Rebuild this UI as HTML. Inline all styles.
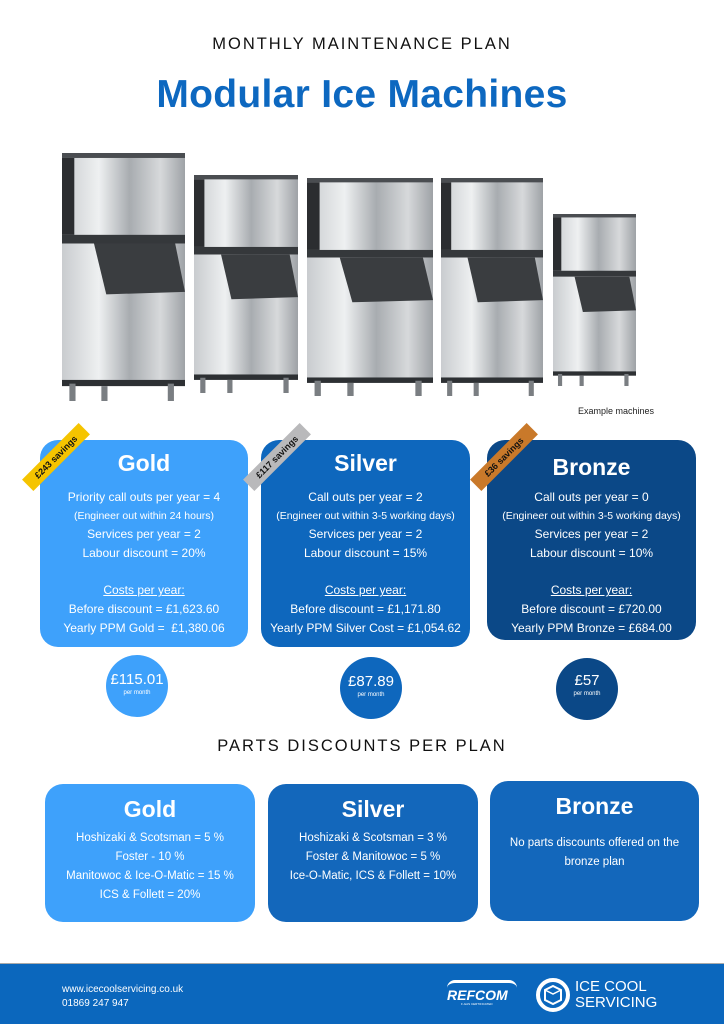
<!DOCTYPE html>
<html><head><meta charset="utf-8"><style>
*{margin:0;padding:0;box-sizing:border-box}
body{width:724px;height:1024px;position:relative;background:#fff;font-family:"Liberation Sans",sans-serif;overflow:hidden}
.a{position:absolute}
.c{text-align:center}
.card{position:absolute;border-radius:18px;color:#fff;text-align:center}
.card h2{font-size:23px;font-weight:bold;margin-top:10px}
.card p{font-size:12px;line-height:18.6px}
.card p.s{font-size:10.5px}
.circ{position:absolute;border-radius:50%;color:#fff;text-align:center;width:62px;height:62px}
.circ b{display:block;font-weight:normal;font-size:15px;margin-top:16px}
.circ i{display:block;font-style:normal;font-size:6px;margin-top:2px}
.pc{position:absolute;border-radius:18px;color:#fff;text-align:center}
.pc h2{font-size:23px;font-weight:bold;margin-top:12px;margin-bottom:6px}
.pc p{font-size:11.5px;line-height:19px}
.rib{position:absolute;width:80px;height:16px;font-size:9px;font-weight:bold;color:#111;text-align:center;line-height:16px;transform:rotate(-45deg)}
</style></head><body>
<div class="a c" style="left:0;top:35px;width:724px;font-size:16.5px;letter-spacing:2px;color:#111">MONTHLY MAINTENANCE PLAN</div>
<div class="a c" style="left:0;top:73px;width:724px;font-size:39px;font-weight:bold;letter-spacing:0.3px;color:#0d68c0">Modular Ice Machines</div>

<svg class="a" style="left:0;top:0" width="724" height="420">
<defs>
<linearGradient id="g" x1="0" x2="1"><stop offset="0" stop-color="#c9cccf"/><stop offset=".3" stop-color="#eef0f1"/><stop offset=".55" stop-color="#a8acb0"/><stop offset=".8" stop-color="#d7d9db"/><stop offset="1" stop-color="#9ea2a6"/></linearGradient>
<g id="m">
<rect x="0" y="2" width="100" height="66" fill="url(#g)"/>
<rect x="0" y="4" width="10" height="62" fill="#2b2d30"/>
<rect x="0" y="0" width="100" height="4" fill="#4a4d51"/>
<rect x="0" y="66" width="100" height="7" fill="#35383b"/>
<rect x="0" y="73" width="100" height="112" fill="url(#g)"/>
<polygon points="26,73 92,73 100,112 36,114" fill="#3a3d40"/>
<rect x="0" y="183" width="100" height="5" fill="#2d3033"/>
<rect x="6" y="186" width="5" height="14" fill="#7a7e82"/>
<rect x="32" y="188" width="5" height="12" fill="#7a7e82"/>
<rect x="86" y="186" width="5" height="14" fill="#7a7e82"/>
</g>
</defs>
<svg x="62" y="153" width="123" height="248" viewBox="0 0 100 200" preserveAspectRatio="none"><use href="#m"/></svg>
<svg x="194" y="175" width="104" height="218" viewBox="0 0 100 200" preserveAspectRatio="none"><use href="#m"/></svg>
<svg x="307" y="178" width="126" height="218" viewBox="0 0 100 200" preserveAspectRatio="none"><use href="#m"/></svg>
<svg x="441" y="178" width="102" height="218" viewBox="0 0 100 200" preserveAspectRatio="none"><use href="#m"/></svg>
<svg x="553" y="214" width="83" height="172" viewBox="0 0 100 200" preserveAspectRatio="none"><use href="#m"/></svg>
</svg>
<div class="a" style="left:578px;top:406px;font-size:9px;color:#222">Example machines</div>

<div class="card" style="left:40px;top:440px;width:208px;height:207px;background:#3ea1fb">
<h2>Gold</h2>
<div style="height:11px"></div>
<p>Priority call outs per year = 4</p><p class="s">(Engineer out within 24 hours)</p><p>Services per year = 2</p><p>Labour discount = 20%</p>
<p style="margin-top:19px;text-decoration:underline">Costs per year:</p><p>Before discount = £1,623.60</p><p>Yearly PPM Gold =&nbsp; £1,380.06</p>
</div>
<div class="card" style="left:261px;top:440px;width:209px;height:207px;background:#0e67bd">
<h2>Silver</h2>
<div style="height:11px"></div>
<p>Call outs per year = 2</p><p class="s">(Engineer out within 3-5 working days)</p><p>Services per year = 2</p><p>Labour discount = 15%</p>
<p style="margin-top:19px;text-decoration:underline">Costs per year:</p><p>Before discount = £1,171.80</p><p>Yearly PPM Silver Cost = £1,054.62</p>
</div>
<div class="card" style="left:487px;top:440px;width:209px;height:200px;background:#0b4887">
<h2 style="margin-top:14px">Bronze</h2>
<div style="height:7px"></div>
<p>Call outs per year = 0</p><p class="s">(Engineer out within 3-5 working days)</p><p>Services per year = 2</p><p>Labour discount = 10%</p>
<p style="margin-top:19px;text-decoration:underline">Costs per year:</p><p>Before discount = £720.00</p><p>Yearly PPM Bronze = £684.00</p>
</div>
<div class="rib" style="left:16px;top:449px;background:#f5c400">£243 savings</div>
<div class="rib" style="left:237px;top:449px;background:#b9b9bb">£117 savings</div>
<div class="rib" style="left:464px;top:449px;background:#c9792a">£36 savings</div>

<div class="circ" style="left:106px;top:655px;background:#3ea1fb"><b>£115.01</b><i>per month</i></div>
<div class="circ" style="left:340px;top:657px;background:#0e67bd"><b>£87.89</b><i>per month</i></div>
<div class="circ" style="left:556px;top:658px;background:#0b4887"><b style="margin-top:14px">£57</b><i>per month</i></div>

<div class="a c" style="left:0;top:737px;width:724px;font-size:16.5px;letter-spacing:2px;color:#111">PARTS DISCOUNTS PER PLAN</div>

<div class="pc" style="left:45px;top:784px;width:210px;height:138px;background:#3ea1fb"><h2>Gold</h2>
<p>Hoshizaki &amp; Scotsman = 5 %</p><p>Foster - 10 %</p><p>Manitowoc &amp; Ice-O-Matic = 15 %</p><p>ICS &amp; Follett = 20%</p></div>
<div class="pc" style="left:268px;top:784px;width:210px;height:138px;background:#1367bb"><h2>Silver</h2>
<p>Hoshizaki &amp; Scotsman = 3 %</p><p>Foster &amp; Manitowoc = 5 %</p><p>Ice-O-Matic, ICS &amp; Follett = 10%</p></div>
<div class="pc" style="left:490px;top:781px;width:209px;height:140px;background:#1367bb"><h2 style="margin-bottom:14px">Bronze</h2>
<p>No parts discounts offered on the</p><p>bronze plan</p></div>

<div class="a" style="left:0;top:963px;width:724px;height:61px;background:#0b67bd;border-top:1px solid #aaa"></div>
<div class="a" style="left:62px;top:983px;font-size:10px;line-height:14px;color:#fff">www.icecoolservicing.co.uk<br>01869 247 947</div>
<div class="a" style="left:447px;top:980px;width:72px;height:30px;color:#fff">
<div style="border-top:3px solid #fff;width:70px;height:8px;border-radius:30px 30px 0 0"></div>
<div style="font-size:14px;font-weight:bold;font-style:italic;line-height:14px">REFCOM</div>
<div style="font-size:3px;margin-left:14px">F-GAS CERTIFICATED</div></div>
<svg class="a" style="left:536px;top:978px" width="34" height="34" viewBox="0 0 34 34"><circle cx="17" cy="17" r="15" fill="none" stroke="#fff" stroke-width="4"/><polygon points="17,8 25,12 25,22 17,26 9,22 9,12" fill="none" stroke="#fff" stroke-width="2"/><polyline points="9,12 17,16 25,12 M17,16 17,26" fill="none" stroke="#fff" stroke-width="1.5"/></svg>
<div class="a" style="left:575px;top:979px;font-size:15px;line-height:16px;color:#fff">ICE COOL<br>SERVICING</div>
</body></html>
